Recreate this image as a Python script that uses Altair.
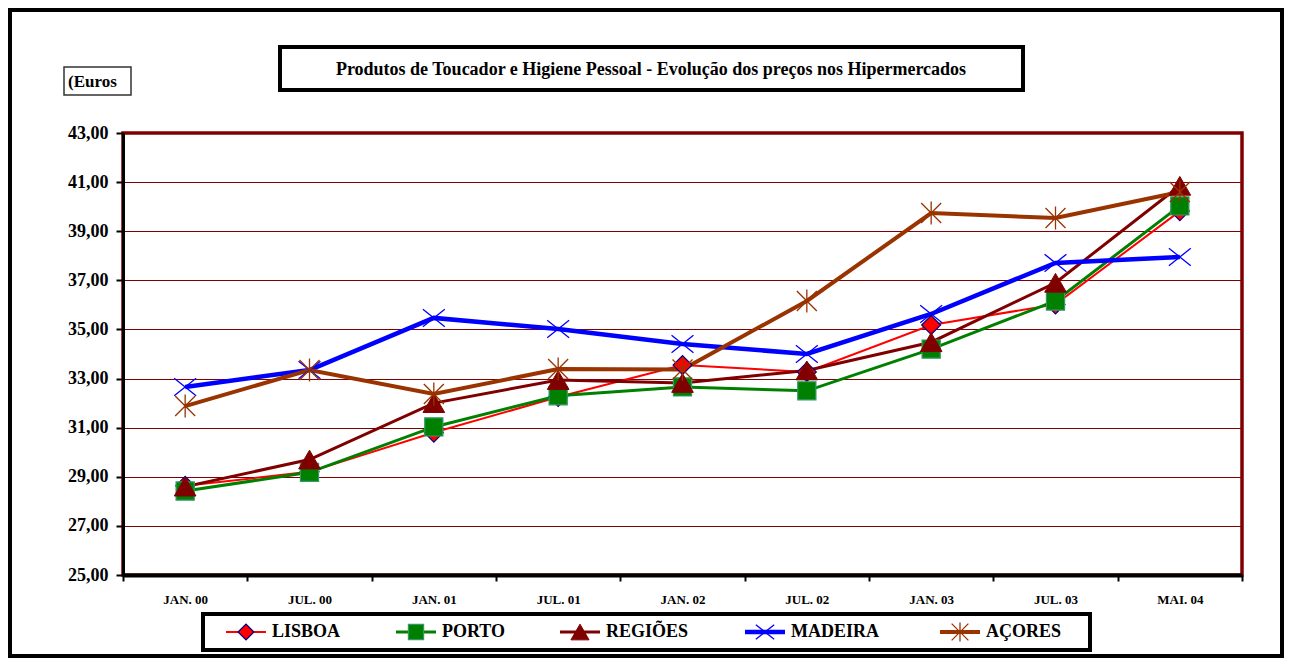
import altair as alt
import pandas as pd

periods = ["JAN. 00", "JUL. 00", "JAN. 01", "JUL. 01", "JAN. 02",
           "JUL. 02", "JAN. 03", "JUL. 03", "MAI. 04"]
series_names = ["LISBOA", "PORTO", "REGIÕES", "MADEIRA", "AÇORES"]

lisboa = [28.63, 29.20, 30.80, 32.25, 33.55, 33.27, 35.18, 36.02, 39.82]
porto = [28.42, 29.18, 31.03, 32.30, 32.66, 32.50, 34.20, 36.16, 40.03]
regioes = [28.60, 29.70, 32.00, 32.94, 32.82, 33.33, 34.48, 36.90, 40.85]
madeira = [32.66, 33.35, 35.47, 35.02, 34.41, 34.00, 35.63, 37.71, 37.95]
acores = [31.88, 33.35, 32.37, 33.39, 33.37, 36.16, 39.74, 39.54, 40.60]

y_ticks = [25, 27, 29, 31, 33, 35, 37, 39, 41, 43]

title_text = "Produtos de Toucador e Higiene Pessoal - Evolução dos preços nos Hipermercados"
unit_text = "(Euros"

# styles
line_colors = ["#FF0000", "#008000", "#800000", "#0000FF", "#993300"]
fill_colors = ["#FF0000", "#008000", "#800000", "transparent", "transparent"]
stroke_colors = ["#000080", "#339966", "#800000", "#0000FF", "#993300"]
X_PATH = "M-1,-0.8L1,0.8M-1,0.8L1,-0.8"
STAR_PATH = "M-1,-1L1,1M-1,1L1,-1M0,-1.15L0,1.15"
shapes = ["diamond", "square", "triangle-up", X_PATH, STAR_PATH]
sizes = [360, 330, 470, 480, 400]
marker_sw = [1.2, 1.2, 1, 1.3, 1.3]
line_widths = [2, 3, 3, 4.5, 4]

values = [lisboa, porto, regioes, madeira, acores]
rows = []
for name, vals in zip(series_names, values):
    for p, v in zip(periods, vals):
        rows.append({"period": p, "series": name, "value": v})
df = pd.DataFrame(rows)

FONT = "Liberation Serif"
W, H = 1119, 442

x_enc = alt.X("period:N", sort=periods, bandPosition=0.5,
              scale=alt.Scale(type="band", domain=periods, paddingInner=0, paddingOuter=0),
              axis=alt.Axis(title=None, labelAngle=0, tickBand="extent", grid=False,
                            domainWidth=4, tickWidth=2, tickSize=6,
                            labelFontSize=13, labelPadding=12))
y_enc = alt.Y("value:Q",
              scale=alt.Scale(domain=[25, 43], nice=False, zero=False),
              axis=alt.Axis(title=None, values=y_ticks,
                            labelExpr="replace(format(datum.value, '.2f'), '.', ',')",
                            domainWidth=3, tickWidth=2, tickSize=7,
                            labelFontSize=18, labelPadding=8,
                            grid=True, gridColor="#800000", gridWidth=1))

base = alt.Chart(df)
layers = []
for i, name in enumerate(series_names):
    layers.append(
        base.transform_filter(alt.datum.series == name)
        .mark_line(color=line_colors[i], strokeWidth=line_widths[i])
        .encode(x=x_enc, y=y_enc)
    )
for i, name in enumerate(series_names):
    layers.append(
        base.transform_filter(alt.datum.series == name)
        .mark_point(shape=shapes[i], fill=fill_colors[i], stroke=stroke_colors[i],
                    size=sizes[i], strokeWidth=marker_sw[i], opacity=1, fillOpacity=1)
        .encode(x=x_enc, y=y_enc)
    )

one = alt.Data(values=[{"k": 1}])

def box(x1, x2, y1, y2, sw, color="black"):
    return alt.Chart(one).mark_rect(fill="transparent", stroke=color, strokeWidth=sw).encode(
        x=alt.value(x1), x2=alt.value(x2), y=alt.value(y1), y2=alt.value(y2))

def label(txt, x, y, size, align="center"):
    return alt.Chart(one).mark_text(font=FONT, fontWeight="bold", fontSize=size,
                                    align=align, baseline="middle", color="black").encode(
        x=alt.value(x), y=alt.value(y), text=alt.value(txt))

# outer frame, title box, unit box, legend box
layers.append(box(-113, 1159, -123, 523, 4))
layers.append(box(157, 900, -86, -43, 4))
layers.append(label(title_text, 528, -63, 18))
layers.append(box(-59, 8, -66, -38, 1.5, "#333333"))
layers.append(label(unit_text, -55, -51, 17, "left"))
layers.append(box(80, 967, 481, 517, 4))

leg_sym = [123, 293, 457, 642, 837]
leg_y = 499
for i, name in enumerate(series_names):
    sx = leg_sym[i]
    layers.append(alt.Chart(one).mark_rule(color=line_colors[i], strokeWidth=line_widths[i]).encode(
        x=alt.value(sx - 20), x2=alt.value(sx + 20), y=alt.value(leg_y)))
    layers.append(alt.Chart(one).mark_point(shape=shapes[i], fill=fill_colors[i], stroke=stroke_colors[i],
                                            size=sizes[i] * 0.7, strokeWidth=marker_sw[i],
                                            opacity=1, fillOpacity=1).encode(
        x=alt.value(sx), y=alt.value(leg_y)))
    layers.append(label(name, sx + 26, leg_y, 18, "left"))

chart = alt.layer(*layers).properties(
    width=W, height=H,
    autosize=alt.AutoSizeParams(type="none"),
    padding={"left": 115, "top": 125, "right": 42, "bottom": 83},
    background="white",
).configure_view(
    stroke="#800000", strokeWidth=3.5
).configure_axis(
    labelFont=FONT, labelFontWeight="bold", labelColor="black",
    domainColor="black", tickColor="black"
)

chart.save("out.html", embed_options={"renderer": "svg", "actions": False})
